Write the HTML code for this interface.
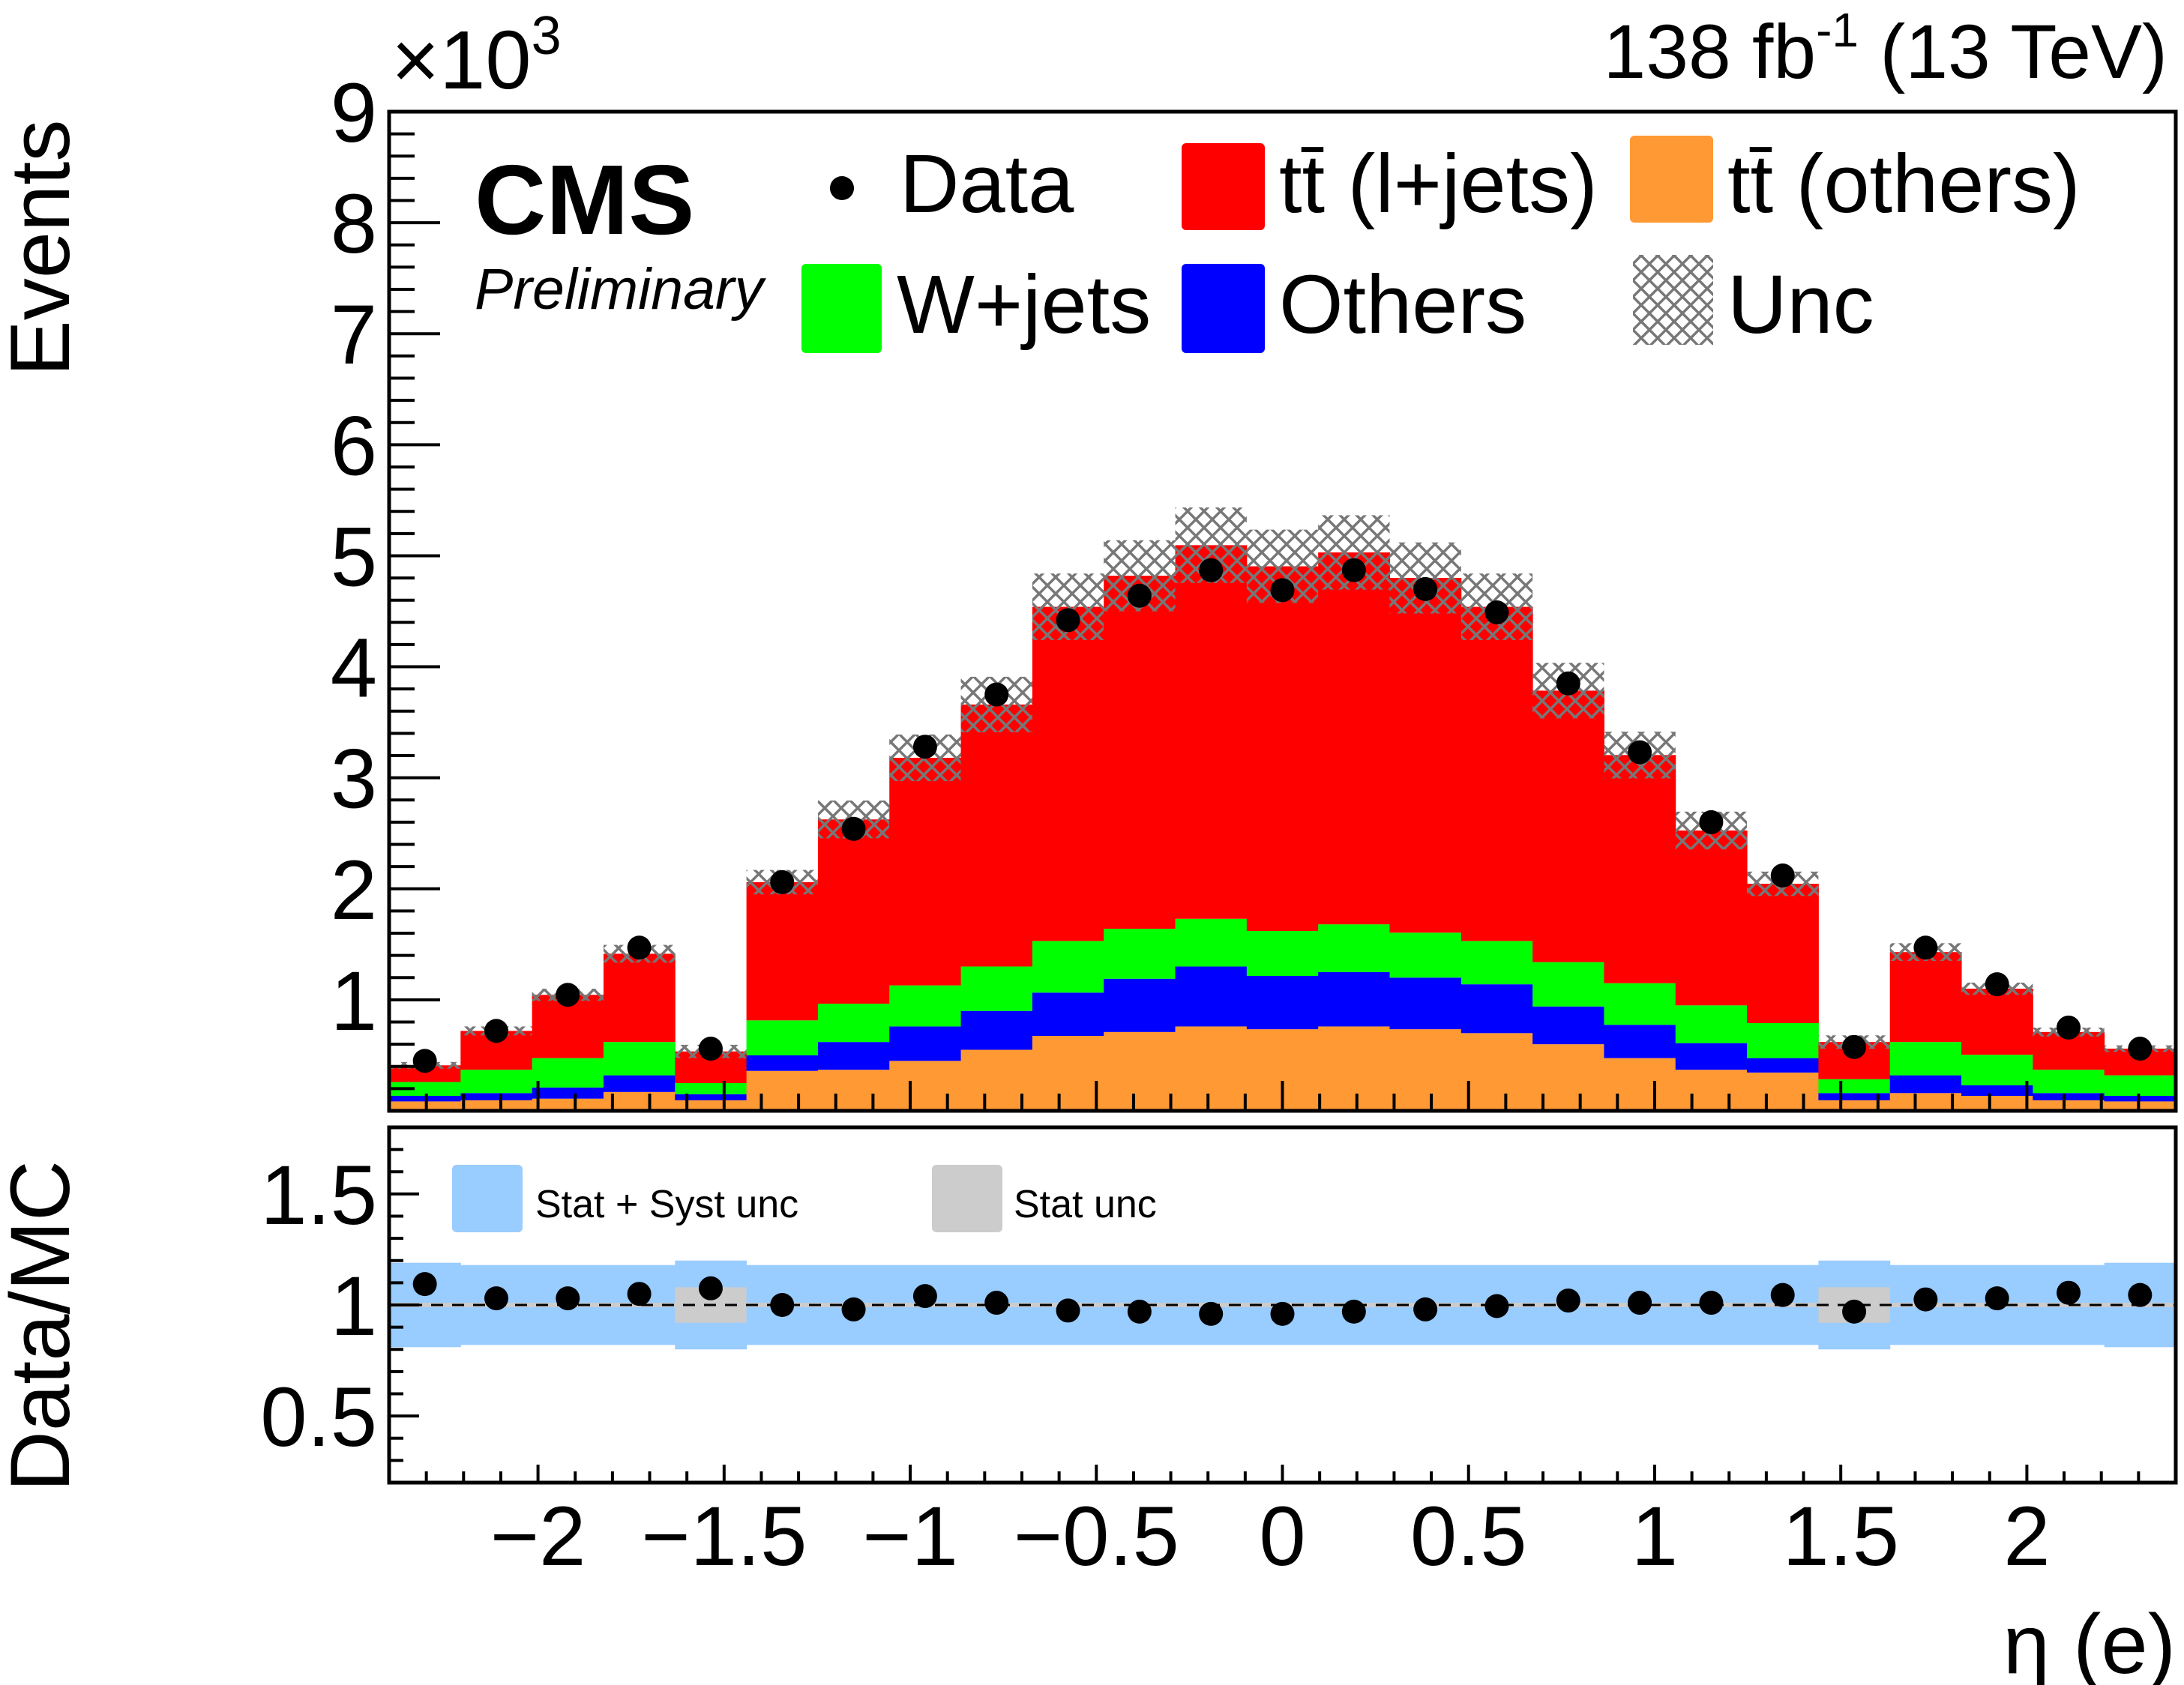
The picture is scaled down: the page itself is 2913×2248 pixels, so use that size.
<!DOCTYPE html>
<html><head><meta charset="utf-8"><style>
html,body{margin:0;padding:0;background:#fff;}
svg{display:block;font-family:"Liberation Sans",Arial,sans-serif;}
</style></head><body>
<svg id="chart" width="2913" height="2248" viewBox="0 0 2913 2248" xmlns="http://www.w3.org/2000/svg">
<defs>
<pattern id="hatch" width="22" height="22" patternUnits="userSpaceOnUse">
<path d="M0,0 L22,22 M22,0 L0,22" stroke="#777" stroke-width="3.5"/>
</pattern>
</defs>
<g id="upper"></g>
<g id="lower"></g>
<text x="2891" y="104" text-anchor="end" font-size="102">138 fb<tspan font-size="64" dy="-42">-1</tspan><tspan dy="42"> (13 TeV)</tspan></text>
<text x="522" y="118" font-size="110">×10<tspan font-size="72" dy="-46">3</tspan></text>
<text transform="translate(92,502) rotate(-90)" font-size="112">Events</text>
<text transform="translate(92,1990) rotate(-90)" font-size="112">Data/MC</text>
<text x="2902" y="2232" text-anchor="end" font-size="112">η (e)</text>
<text x="633" y="312" font-size="132" font-weight="bold">CMS</text>
<text x="633" y="412" font-size="77" font-style="italic">Preliminary</text>
<g>
<circle cx="1123" cy="251" r="16" fill="#000"/>
<text x="1200" y="283" font-size="110">Data</text>
<rect x="1576" y="191" width="111" height="116" rx="6" fill="#ff0000"/>
<text x="1706" y="283" font-size="110">tt̄ (l+jets)</text>
<rect x="2174" y="181" width="111" height="116" rx="6" fill="#ff9933"/>
<text x="2304" y="283" font-size="110">tt̄ (others)</text>
<rect x="1069" y="352" width="107" height="119" rx="6" fill="#00ff00"/>
<text x="1196" y="444" font-size="110">W+jets</text>
<rect x="1576" y="352" width="111" height="119" rx="6" fill="#0000ff"/>
<text x="1706" y="444" font-size="110">Others</text>
<rect x="2178" y="340" width="107" height="120" fill="url(#hatch)"/>
<text x="2304" y="444" font-size="110">Unc</text>
<rect x="603" y="1554" width="94" height="90" rx="6" fill="#99ccff"/>
<text x="714" y="1624" font-size="52">Stat + Syst unc</text>
<rect x="1243" y="1554" width="94" height="90" rx="6" fill="#cccccc"/>
<text x="1352" y="1624" font-size="52">Stat unc</text>
</g>
</svg>
<script>
const binEdges=[-2.4,-2.208,-2.016,-1.824,-1.632,-1.44,-1.248,-1.056,-0.864,-0.672,-0.48,-0.288,-0.096,0.096,0.288,0.48,0.672,0.864,1.056,1.248,1.44,1.632,1.824,2.016,2.208,2.4];
const ttOthers=[85,95,110,170,95,360,370,450,550,675,710,760,735,760,735,700,600,475,370,345,95,160,135,95,85];
const others=[50,65,100,150,55,140,250,310,350,390,480,540,480,490,465,440,340,300,240,130,65,160,95,65,50];
const wjets=[125,210,265,300,100,315,345,370,400,465,450,430,405,430,405,390,400,375,340,315,125,300,275,210,185];
const ttLjets=[150,350,570,795,285,1245,1660,2050,2360,3010,3180,3365,3285,3350,3195,3010,2445,2055,1575,1255,335,810,595,340,240];
const dataVals=[450,720,1045,1470,560,2060,2540,3280,3750,4420,4640,4870,4690,4870,4700,4490,3850,3230,2600,2120,575,1470,1140,750,560];
const uncVals=[30,40,55,80,60,110,170,210,250,300,320,340,330,335,320,300,250,210,170,110,60,80,55,40,30];
const ratioVals=[1.094,1.03,1.03,1.05,1.075,1.0,0.98,1.04,1.01,0.975,0.97,0.96,0.96,0.97,0.98,0.995,1.02,1.01,1.01,1.045,0.97,1.025,1.03,1.055,1.045];
const systBand=[0.19,0.18,0.18,0.18,0.2,0.18,0.18,0.18,0.18,0.18,0.18,0.18,0.18,0.18,0.18,0.18,0.18,0.18,0.18,0.18,0.2,0.18,0.18,0.18,0.19];
const statBand=[0.01,0.01,0.01,0.01,0.08,0.01,0.01,0.01,0.01,0.01,0.01,0.01,0.01,0.01,0.01,0.01,0.01,0.01,0.01,0.01,0.08,0.01,0.01,0.01,0.01];
const yTicks=[1,2,3,4,5,6,7,8,9];
const xTickLabels=["\u22122","\u22121.5","\u22121","\u22120.5","0","0.5","1","1.5","2"];
const xTickVals=[-2,-1.5,-1,-0.5,0,0.5,1,1.5,2];
const rTickLabels=["0.5","1","1.5"];
const rTickVals=[0.5,1,1.5];

const NS="http://www.w3.org/2000/svg";
const L=519,R=2902,T=149,B=1482,RT=1504,RB=1978;
const xs=e=>L+(e+2.4)/4.8*(R-L);
const ys=v=>B-v/9000*(B-T);
const yr=r=>RB-(r-0.2)/1.6*(RB-RT);
function mk(tag,attrs,parent){const el=document.createElementNS(NS,tag);for(const k in attrs)el.setAttribute(k,attrs[k]);parent.appendChild(el);return el;}
const up=document.getElementById('upper'),lo=document.getElementById('lower');
const layers=[[ttOthers,'#ff9933','ttbar-others'],[others,'#0000ff','others'],[wjets,'#00ff00','wjets'],[ttLjets,'#ff0000','ttbar-ljets']];
for(let i=0;i<dataVals.length;i++){
  const x0=xs(binEdges[i]),x1=xs(binEdges[i+1]);
  let base=0;
  for(const [arr,col,nm] of layers){
    const top=base+arr[i];
    const r=mk('rect',{x:x0,y:ys(top),width:x1-x0+0.5,height:ys(base)-ys(top),fill:col},up);
    
    
    base=top;
  }
  const h=mk('rect',{x:x0,y:ys(base+uncVals[i]),width:x1-x0,height:ys(base-uncVals[i])-ys(base+uncVals[i]),fill:'url(#hatch)'},up);
  
  
}
for(let i=0;i<dataVals.length;i++){
  const cx=(xs(binEdges[i])+xs(binEdges[i+1]))/2;
  const c=mk('circle',{cx:cx,cy:ys(dataVals[i]),r:16,fill:'#000'},up);
  
  
}
const f1=mk('rect',{x:L,y:T,width:R-L,height:B-T,fill:'none',stroke:'#000','stroke-width':5},up);


for(let v=200;v<=9000;v+=200){const maj=v%1000===0;mk('line',{x1:L,x2:L+(maj?68:34),y1:ys(v),y2:ys(v),stroke:'#000','stroke-width':4},up);}
yTicks.forEach(t=>{const tx=mk('text',{x:503,y:ys(t*1000)+40,'text-anchor':'end','font-size':112},up);tx.textContent=t;
  
  });
for(let k=-23;k<=23;k++){const e=k/10;const maj=k%5===0;
  mk('line',{x1:xs(e),x2:xs(e),y1:B,y2:B-(maj?40:23),stroke:'#000','stroke-width':4},up);
  mk('line',{x1:xs(e),x2:xs(e),y1:RB,y2:RB-(maj?24:15),stroke:'#000','stroke-width':4},lo);}
for(let i=0;i<ratioVals.length;i++){
  const x0=xs(binEdges[i]),x1=xs(binEdges[i+1]);
  const b=mk('rect',{x:x0,y:yr(1+systBand[i]),width:x1-x0+0.5,height:yr(1-systBand[i])-yr(1+systBand[i]),fill:'#99ccff'},lo);
  
  
  const s=mk('rect',{x:x0,y:yr(1+statBand[i]),width:x1-x0+0.5,height:yr(1-statBand[i])-yr(1+statBand[i]),fill:'#cccccc'},lo);
  
  
}
const dl=mk('line',{x1:L,x2:R,y1:yr(1),y2:yr(1),stroke:'#000','stroke-width':3,'stroke-dasharray':'16 12'},lo);


for(let i=0;i<ratioVals.length;i++){
  const cx=(xs(binEdges[i])+xs(binEdges[i+1]))/2;
  const c=mk('circle',{cx:cx,cy:yr(ratioVals[i]),r:16,fill:'#000'},lo);
  
  
}
const f2=mk('rect',{x:L,y:RT,width:R-L,height:RB-RT,fill:'none',stroke:'#000','stroke-width':5},lo);


for(let k=3;k<=17;k++){const r=k/10;const maj=k%5===0;mk('line',{x1:L,x2:L+(maj?40:19),y1:yr(r),y2:yr(r),stroke:'#000','stroke-width':4},lo);}
rTickVals.forEach((v,j)=>{const tx=mk('text',{x:503,y:yr(v)+40,'text-anchor':'end','font-size':112},lo);tx.textContent=rTickLabels[j];
  
  });
xTickVals.forEach((v,j)=>{const tx=mk('text',{x:xs(v),y:2088,'text-anchor':'middle','font-size':112},lo);tx.textContent=xTickLabels[j];
  
  });
</script>
</body></html>
